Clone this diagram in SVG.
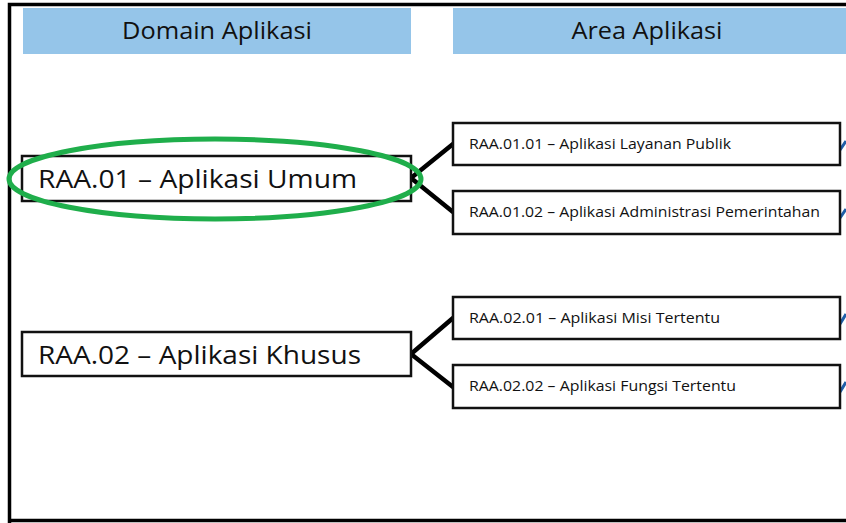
<svg xmlns="http://www.w3.org/2000/svg" width="846" height="523" viewBox="0 0 846 523">
<style>
.hdr{fill:#95c5e9}
.hdrt{font-family:"Open Sans","Noto Sans","Liberation Sans",sans-serif;font-size:23px;fill:#111;text-anchor:middle}
.box{fill:#fff;stroke:#111;stroke-width:2.5}
.big{font-family:"Open Sans","Noto Sans","Liberation Sans",sans-serif;font-size:26px;fill:#111}
.small{font-family:"Open Sans","Noto Sans","Liberation Sans",sans-serif;font-size:14px;fill:#111}
.conn{stroke:#000;stroke-width:4.5;fill:none;stroke-linecap:round}
.stub{stroke:#1f5fa8;stroke-width:3;fill:none}
</style>
<rect x="0" y="0" width="846" height="523" fill="#fff"/>
<path d="M9.5 900 V4.5 H900 M9.5 520.5 H900" fill="none" stroke="#000" stroke-width="3.5"/>
<g id="header-domain">
<rect class="hdr" x="23" y="8" width="388" height="46"/>
<text class="hdrt" x="217" y="39" textLength="190" lengthAdjust="spacingAndGlyphs">Domain Aplikasi</text>
</g>
<g id="header-area">
<rect class="hdr" x="453" y="8" width="400" height="46"/>
<text class="hdrt" x="647" y="39" textLength="151" lengthAdjust="spacingAndGlyphs">Area Aplikasi</text>
</g>
<g id="connectors">
<path class="conn" d="M411 178 L453 144 M411 178 L453 212"/>
<path class="conn" d="M411 354 L453 318 M411 354 L453 387"/>
<path class="stub" d="M840 150 L846 141 M840 218 L846 209 M840 324 L846 314 M840 392 L846 382"/>
</g>
<g id="raa01">
<rect class="box" x="22" y="156" width="389" height="45"/>
<text class="big" x="38" y="188" textLength="319" lengthAdjust="spacingAndGlyphs">RAA.01 – Aplikasi Umum</text>
</g>
<g id="highlight">
<ellipse cx="215" cy="179" rx="206" ry="40" fill="none" stroke="#1fae4b" stroke-width="5"/>
</g>
<g id="raa02">
<rect class="box" x="22" y="332" width="389" height="44"/>
<text class="big" x="38" y="364" textLength="323" lengthAdjust="spacingAndGlyphs">RAA.02 – Aplikasi Khusus</text>
</g>
<g id="raa0101">
<rect class="box" x="453" y="123" width="387" height="42"/>
<text class="small" x="469" y="149" textLength="262" lengthAdjust="spacingAndGlyphs">RAA.01.01 – Aplikasi Layanan Publik</text>
</g>
<g id="raa0102">
<rect class="box" x="453" y="191" width="387" height="43"/>
<text class="small" x="469" y="217" textLength="351" lengthAdjust="spacingAndGlyphs">RAA.01.02 – Aplikasi Administrasi Pemerintahan</text>
</g>
<g id="raa0201">
<rect class="box" x="453" y="297" width="387" height="42"/>
<text class="small" x="469" y="323" textLength="251" lengthAdjust="spacingAndGlyphs">RAA.02.01 – Aplikasi Misi Tertentu</text>
</g>
<g id="raa0202">
<rect class="box" x="453" y="365" width="387" height="43"/>
<text class="small" x="469" y="391" textLength="267" lengthAdjust="spacingAndGlyphs">RAA.02.02 – Aplikasi Fungsi Tertentu</text>
</g>
</svg>
